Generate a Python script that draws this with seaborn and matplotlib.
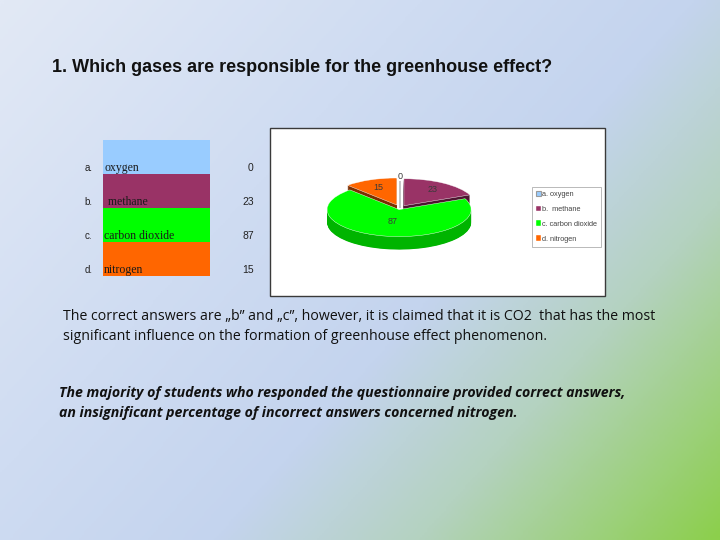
import numpy as np
import matplotlib
matplotlib.use("Agg")
import matplotlib.pyplot as plt
from matplotlib.colors import ListedColormap, LinearSegmentedColormap
import seaborn as sns

# --- Data ---
LETTERS = ['a.', 'b.', 'c.', 'd.']
GASES = ['oxygen', 'methane', 'carbon dioxide', 'nitrogen']
COUNTS = [0, 23, 87, 15]
GAS_COLORS = ['#99ccff', '#993366', '#00ff00', '#ff6600']
SIDE_COLORS = ['#6a8fb3', '#4d1530', '#00b400', '#7a2e00']
EXPLODE = [0.0, 0.10, 0.06, 0.12]
LABEL_DIST = [1.15, 0.72, 0.45, 0.68]

TITLE = '1. Which gases are responsible for the greenhouse effect?'
NOTE_LINES = ['The correct answers are \u201eb\u201d and \u201ec\u201d, however, it is claimed that it is CO2  that has the most',
              'significant influence on the formation of greenhouse effect phenomenon.']
CONCL_LINES = ['The majority of students who responded the questionnaire provided correct answers,',
               'an insignificant percentage of incorrect answers concerned nitrogen.']

sns.set_theme(style="white")
plt.rcParams['font.family'] = ['Liberation Sans', 'DejaVu Sans']

W, H = 720, 540
fig = plt.figure(figsize=(7.2, 5.4), dpi=100)

# --- slide background gradient ---
bg = fig.add_axes([0, 0, 1, 1])
xx, yy = np.meshgrid(np.linspace(0, 1, 300), np.linspace(0, 1, 225))
t = np.clip(0.6 * xx + 0.4 * yy, 0, 1)
grad = LinearSegmentedColormap.from_list(
    'slide', [(0, '#e2e9f5'), (0.35, '#cfdcf2'), (0.58, '#c4d4ee'),
              (0.75, '#b4d2c0'), (1, '#8ccf4c')])
bg.imshow(t, cmap=grad, aspect='auto', extent=(0, W, H, 0), vmin=0, vmax=1)
bg.set_xlim(0, W)
bg.set_ylim(H, 0)
bg.axis('off')

bg.text(52, 68, TITLE, fontsize=12.95, fontweight='bold', color='#111111', va='center')
for i, line in enumerate(NOTE_LINES):
    bg.text(63, 317 + 20 * i, line, fontsize=10.2, family=['Open Sans', 'DejaVu Sans'],
            color='#111111', va='center')
for i, line in enumerate(CONCL_LINES):
    bg.text(59, 393 + 19.5 * i, line, fontsize=10.15, family=['Open Sans', 'DejaVu Sans'],
            fontweight='bold', style='italic', color='#111111', va='center')

# white chart panel
bg.add_patch(plt.Rectangle((270, 128), 335, 168, facecolor='white', edgecolor='#3a3a3a', lw=1.0))

# --- answer table as a one-column heatmap ---
tab = fig.add_axes([103 / W, 1 - 276 / H, 107 / W, 136 / H])
idx = np.arange(len(GASES)).reshape(-1, 1)
sns.heatmap(idx, ax=tab, cmap=ListedColormap(GAS_COLORS), cbar=False,
            xticklabels=False, yticklabels=False, vmin=-0.5, vmax=len(GASES) - 0.5)
tab.set_xlim(0, 1)
tab.set_ylim(len(GASES), 0)
for i, (let, gas, n) in enumerate(zip(LETTERS, GASES, COUNTS)):
    yv = i + 0.82
    tab.text(-0.1, yv, let, fontsize=7, ha='right', va='center', color='#222222', clip_on=False)
    tab.text(0.01 if i != 1 else 0.02, yv, gas if i != 1 else ' ' + gas, fontsize=8.5,
             family=['Liberation Serif'], ha='left', va='center', color='#1a1a1a', clip_on=False)
    tab.text(1.41, yv, str(n), fontsize=7.5, ha='right', va='center', color='#222222', clip_on=False)

# --- 3D-looking exploded pie ---
pax = fig.add_axes([271 / W, 1 - 295 / H, 333 / W, 166 / H])
rx, ry = 72.0, 27.0
cx, cy = 400.0, 208.0
depth = 13.0 / ry
n_layers = 26
for k in range(n_layers, 0, -1):
    off = depth * k / n_layers
    pax.pie(COUNTS, colors=SIDE_COLORS, startangle=90, counterclock=False,
            explode=EXPLODE, center=(0, -off), radius=1.0,
            wedgeprops=dict(linewidth=0))
wedges, _ = pax.pie(COUNTS, colors=GAS_COLORS, startangle=90, counterclock=False,
                    explode=EXPLODE, center=(0, 0), radius=1.0,
                    wedgeprops=dict(linewidth=0.3, edgecolor='#ffffff'))
# zero-size oxygen slice shows only as a thin line
wedges[0].set_edgecolor('#9a9a9a')
wedges[0].set_linewidth(0.8)
pax.set_aspect('auto')
pax.set_xlim((271 - cx) / rx, (604 - cx) / rx)
pax.set_ylim(-(295 - cy) / ry, (cy - 129) / ry)
pax.axis('off')

total = float(sum(COUNTS))
start = 90.0
for n, dist, ex in zip(COUNTS, LABEL_DIST, EXPLODE):
    span = 360.0 * n / total
    mid = np.deg2rad(start - span / 2)
    start -= span
    pax.text((dist + ex) * np.cos(mid), (dist + ex) * np.sin(mid), str(n),
             fontsize=6.5, ha='center', va='center', color='#3a3a3a')

leg_labels = [f'{l} {g}' if i != 1 else f'{l}  {g}' for i, (l, g) in enumerate(zip(LETTERS, GASES))]
leg = pax.legend(wedges, leg_labels, loc='upper left', bbox_to_anchor=(528 / W, 1 - 183 / H),
                 bbox_transform=fig.transFigure, fontsize=5.3, frameon=True, fancybox=False,
                 edgecolor='#9a9a9a', handlelength=0.7, handleheight=0.7, handletextpad=0.2,
                 labelspacing=1.05, borderpad=0.55, labelcolor='#444444')
leg.get_frame().set_linewidth(0.6)

fig.savefig('out.png', dpi=100)
